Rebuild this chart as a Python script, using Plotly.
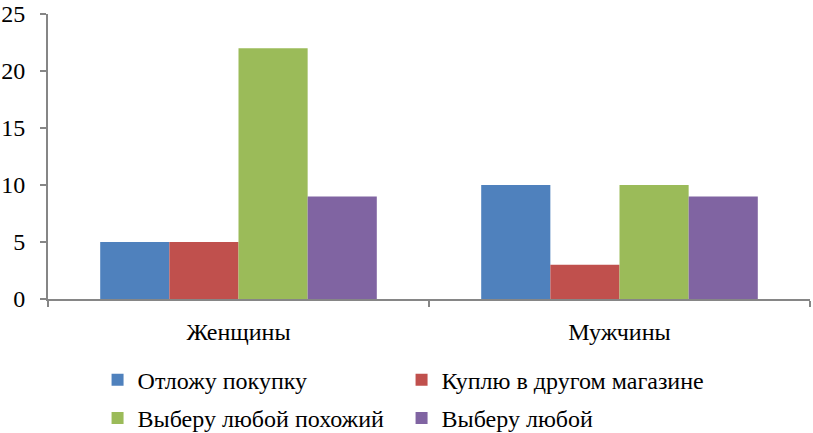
import plotly.graph_objects as go

categories = ["Женщины", "Мужчины"]
series_names = ["Отложу покупку", "Куплю в другом магазине", "Выберу любой похожий", "Выберу любой"]
otlozhu = [5, 10]
kuplyu = [5, 3]
vyberu_pohozhiy = [22, 10]
vyberu_lyuboy = [9, 9]
colors = ["#4F81BD", "#C0504D", "#9BBB59", "#8064A2"]
y_ticks = [0, 5, 10, 15, 20, 25]

values = [otlozhu, kuplyu, vyberu_pohozhiy, vyberu_lyuboy]
legends = ["legend", "legend", "legend2", "legend2"]

fig = go.Figure()
for name, vals, col, lg in zip(series_names, values, colors, legends):
    fig.add_trace(go.Bar(x=categories, y=vals, name=name, marker_color=col,
                         marker_line_width=0, legend=lg))

font = dict(family="Liberation Serif", size=24, color="black")
axis_col = "#868686"

fig.update_layout(
    width=813, height=433,
    margin=dict(l=48, r=3, t=14, b=134, autoexpand=False),
    paper_bgcolor="white", plot_bgcolor="white",
    font=font,
    barmode="group", bargap=0.274, bargroupgap=0,
    showlegend=True,
    legend=dict(orientation="h", xref="container", yref="container",
                x=0.12, y=0.122, xanchor="left", yanchor="middle",
                entrywidth=259, entrywidthmode="pixels", font=font,
                itemclick=False, traceorder="normal"),
    legend2=dict(orientation="h", xref="container", yref="container",
                 x=0.12, y=0.034, xanchor="left", yanchor="middle",
                 entrywidth=259, entrywidthmode="pixels", font=font,
                 itemclick=False, traceorder="normal"),
    xaxis=dict(range=[-0.5, 1.5], showline=True, linecolor=axis_col, linewidth=2,
               ticks="outside", tickson="boundaries", ticklen=6, tickcolor=axis_col,
               tickwidth=2, showgrid=False, zeroline=False, ticklabelstandoff=10,
               tickfont=font, automargin=False),
    yaxis=dict(range=[0, 25], tickvals=y_ticks, showline=True, linecolor=axis_col,
               linewidth=2, ticks="outside", ticklen=6, tickcolor=axis_col, tickwidth=2,
               showgrid=False, zeroline=False, ticklabelstandoff=10, tickfont=font,
               automargin=False, ticklabeloverflow="allow"),
)

fig.write_html("out.html", config={"displayModeBar": False},
               post_script="document.body.style.margin='0';")
